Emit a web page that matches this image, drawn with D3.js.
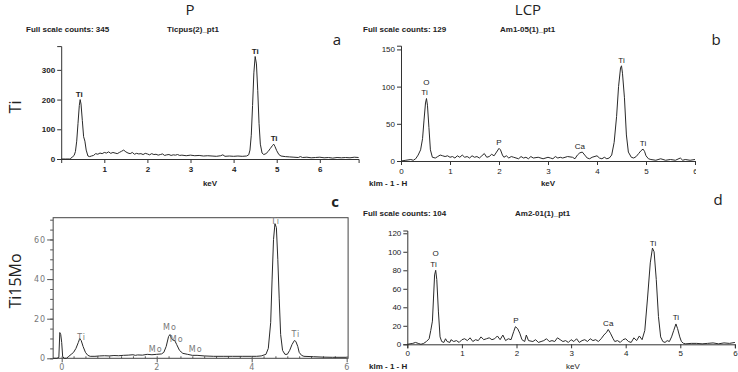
<!DOCTYPE html>
<html><head><meta charset="utf-8">
<script src="https://cdn.jsdelivr.net/npm/d3@7"></script>
<style>
body{margin:0;background:#fff;}
svg{display:block;}
.hdr{font-family:"Liberation Sans Narrow","Liberation Sans",Arial,sans-serif;font-weight:bold;font-size:8px;fill:#222;}
.tk{font-family:"Liberation Sans Narrow","Liberation Sans",Arial,sans-serif;font-weight:bold;font-size:8px;fill:#222;}
.tkb{font-family:"Liberation Sans",Arial,sans-serif;font-size:8px;fill:#222;}
.tkc{font-family:"DejaVu Sans",sans-serif;font-size:8px;fill:#777;letter-spacing:1px;}
.big{font-family:"Open Sans","Noto Sans",sans-serif;font-size:15px;fill:#222;}
</style></head>
<body><svg id="c" width="738" height="372"></svg>
<script>
// ---------- data ----------
// Panel a : Ti, P treatment (Full scale counts 345)
const keV_a = [0,0.1,0.2,0.22,0.27,0.3,0.33,0.36,0.39,0.42,0.44,0.46,0.49,0.52,0.55,0.58,0.62,0.66,0.7,0.75,0.8,0.85,0.9,0.95,1.0,1.05,1.1,1.15,1.2,1.25,1.3,1.35,1.4,1.45,1.5,1.55,1.6,1.65,1.7,1.75,1.8,1.85,1.9,1.95,2.0,2.05,2.1,2.15,2.2,2.25,2.3,2.35,2.4,2.45,2.5,2.55,2.6,2.65,2.7,2.75,2.8,2.9,3.0,3.1,3.2,3.3,3.4,3.5,3.6,3.7,3.75,3.8,3.9,4.0,4.1,4.2,4.3,4.35,4.38,4.41,4.44,4.47,4.5,4.53,4.56,4.59,4.62,4.66,4.7,4.75,4.8,4.85,4.9,4.93,4.96,5.0,5.05,5.1,5.2,5.3,5.4,5.5,5.55,5.6,5.7,5.8,5.9,6.0,6.1,6.2,6.3,6.4,6.5,6.6,6.7,6.8,6.9];
const cnt_a = [0,0,0,2,8,12,25,60,120,180,200,185,130,75,60,30,10,8,10,12,18,16,20,18,22,20,24,19,22,20,18,22,26,30,24,20,18,22,16,19,17,18,15,19,17,14,18,15,16,13,15,17,12,14,15,12,14,13,15,12,13,11,13,11,12,10,11,10,9,11,14,9,10,9,10,9,10,14,30,80,180,290,345,320,230,120,50,20,15,18,25,35,45,50,42,28,15,10,8,7,6,5,8,5,6,4,5,6,4,5,3,5,4,5,4,6,5];
const lbl_a = [["Ti",0.42,219],["Ti",4.5,364],["Ti",4.94,71]];
const yTicks_a = [0,100,200,300];
const xTicks_a = [1,2,3,4,5,6];

// Panel b : Ti, LCP treatment (Full scale counts 129)
const keV_b = [0,0.1,0.2,0.25,0.3,0.35,0.4,0.44,0.47,0.5,0.52,0.54,0.57,0.6,0.64,0.7,0.75,0.8,0.85,0.9,0.95,1.0,1.05,1.1,1.15,1.2,1.25,1.3,1.35,1.4,1.45,1.5,1.55,1.6,1.65,1.7,1.75,1.8,1.85,1.9,1.95,2.0,2.03,2.07,2.1,2.15,2.2,2.25,2.3,2.4,2.45,2.5,2.55,2.6,2.65,2.7,2.8,2.9,3.0,3.05,3.1,3.15,3.2,3.25,3.3,3.4,3.5,3.55,3.6,3.65,3.7,3.75,3.8,3.85,3.9,4.0,4.05,4.1,4.15,4.2,4.25,4.3,4.35,4.4,4.44,4.48,4.5,4.52,4.56,4.6,4.64,4.7,4.75,4.8,4.85,4.9,4.94,4.97,5.0,5.05,5.1,5.2,5.3,5.4,5.5,5.6,5.7,5.75,5.8,5.9,6.0];
const cnt_b = [0,1,2,1,3,8,15,30,55,78,84,75,45,15,5,4,6,8,7,6,7,5,6,4,7,5,8,5,6,4,7,5,6,4,7,10,5,6,9,7,12,17,15,8,5,7,4,6,5,3,6,4,5,3,6,4,5,3,5,4,3,6,4,5,4,6,5,3,8,11,12,8,4,3,5,7,4,3,5,3,4,8,25,60,100,125,128,118,85,35,12,5,4,6,10,14,16,13,7,3,2,1,3,1,2,1,4,1,2,1,2];
const lbl_b = [["O",0.52,106],["Ti",0.48,93],["P",2.0,25.5],["Ca",3.65,20],["Ti",4.5,136],["Ti",4.94,24]];
const yTicks_b = [0,50,100,150];
const xTicks_b = [0,1,2,3,4,5,6];

// Panel c : Ti15Mo, P treatment
const keV_c = [-0.18,-0.1,-0.06,-0.04,-0.02,0.0,0.02,0.05,0.1,0.15,0.2,0.25,0.3,0.35,0.38,0.41,0.45,0.5,0.55,0.6,0.7,0.8,0.9,1.0,1.1,1.2,1.3,1.4,1.5,1.55,1.6,1.7,1.8,1.9,2.0,2.1,2.15,2.2,2.25,2.28,2.31,2.35,2.38,2.42,2.48,2.55,2.65,2.75,2.85,3.0,3.2,3.4,3.6,3.8,4.0,4.1,4.2,4.3,4.35,4.4,4.43,4.46,4.49,4.52,4.55,4.58,4.61,4.65,4.7,4.75,4.8,4.85,4.9,4.93,4.97,5.0,5.05,5.1,5.3,5.5,5.7,6.0];
const cnt_c = [0,0,0.5,13,12,8,1,0,0,1,2,3,5,8,10,9,6,3,1.5,1,1,1.2,1.3,1.2,1.4,1.3,1.5,1.6,1.8,1.5,1.7,1.6,2,1.8,2,2.2,3,6,11,12,10,9,9,7,4,2.5,2,1.5,1.5,1.2,1,1,1,1,1,1,1.2,2,5,18,40,60,68,66,50,30,12,4,2,2,4,7,9,8.5,6,3,1.5,1,0.8,0.6,0.5,0.5];
const lbl_c = [["Ti",0.42,10.8],["Mo",2.28,15.8],["Mo",2.42,9.8],["Mo",1.98,4.4],["Mo",2.82,4.4],["Ti",4.5,69.3],["Ti",4.93,12.3]];
const yTicks_c = [0,20,40,60];
const xTicks_c = [0,2,4,6];

// Panel d : Ti15Mo, LCP treatment (Full scale counts 104)
const keV_d = [0,0.1,0.15,0.2,0.25,0.3,0.35,0.4,0.43,0.46,0.48,0.5,0.52,0.54,0.57,0.6,0.63,0.67,0.7,0.73,0.78,0.8,0.85,0.9,0.95,1.0,1.05,1.1,1.15,1.2,1.25,1.3,1.35,1.4,1.45,1.5,1.55,1.6,1.65,1.7,1.75,1.8,1.85,1.9,1.95,1.98,2.02,2.06,2.1,2.15,2.18,2.22,2.3,2.35,2.4,2.45,2.5,2.55,2.6,2.65,2.7,2.75,2.8,2.85,2.9,2.95,3.0,3.05,3.1,3.15,3.2,3.25,3.3,3.35,3.4,3.45,3.5,3.55,3.6,3.65,3.68,3.72,3.77,3.8,3.85,3.9,3.95,4.0,4.05,4.1,4.15,4.2,4.25,4.3,4.35,4.4,4.45,4.49,4.52,4.56,4.6,4.64,4.68,4.72,4.76,4.8,4.84,4.88,4.92,4.95,4.99,5.02,5.06,5.1,5.2,5.3,5.4,5.5,5.6,5.7,5.8,5.9,6.0];
const cnt_d = [0,1,2,1,0,1,3,6,15,25,50,75,80,70,35,8,3,2,6,3,2,5,3,4,2,5,6,4,7,3,5,4,8,5,6,7,5,6,9,5,10,4,6,5,14,19,17,12,5,3,10,4,3,5,2,3,4,6,3,4,3,7,5,3,4,2,5,3,6,2,4,5,3,6,4,5,3,6,10,13,16,12,6,3,4,2,5,6,3,2,7,4,9,5,15,50,88,104,100,70,30,8,3,2,4,3,8,15,22,17,8,3,1,0.5,1,1,0.5,1,1.5,0.5,1.5,1,2];
const lbl_d = [["O",0.52,98.7],["Ti",0.48,86.8],["P",1.99,26.3],["Ca",3.68,22.7],["Ti",4.5,109],["Ti",4.92,28.8]];
const yTicks_d = [0,20,40,60,80,100,120];
const xTicks_d = [0,1,2,3,4,5,6];

// header texts
const headers = [
  {counts:"Full scale counts: 345", name:"Ticpus(2)_pt1"},
  {counts:"Full scale counts: 129", name:"Am1-05(1)_pt1"},
  {counts:"Full scale counts: 104", name:"Am2-01(1)_pt1"}
];
const colTitles = ["P","LCP"];
const rowTitles = ["Ti","Ti15Mo"];
const panelLetters = ["a","b","c","d"];

// ---------- drawing ----------
const svg = d3.select("#c");
const defs = svg.append("defs");
defs.append("clipPath").attr("id","clipB").append("rect").attr("x",0).attr("y",0).attr("width",696).attr("height",200);
const fmt = d3.format("d");

function pairs(k,c){ return k.map((v,i)=>[v,c[i]]); }

function spectrum(g, x, y, keV, cnt, lbls, lblClass){
  const line = d3.line().x(d=>x(d[0])).y(d=>y(d[1]));
  g.append("path").datum(pairs(keV,cnt)).attr("d",line)
    .attr("fill","none").attr("stroke","#2a2a2a").attr("stroke-width",1);
  g.selectAll(null).data(lbls).join("text")
    .attr("class",lblClass).attr("x",d=>x(d[1])).attr("y",d=>y(d[2])).attr("dy","0.35em")
    .attr("text-anchor","middle").text(d=>d[0]);
}
function styleAxis(a, cls, keepDomain){
  if(keepDomain) a.select(".domain").attr("stroke","#333"); else a.select(".domain").remove();
  a.selectAll("line").attr("stroke", cls==="tkc" ? "#555" : "#333");
  a.selectAll("text").attr("class",cls).attr("font-family",null).attr("font-size",null).attr("fill",null);
}

// Panel a
{
  const g = svg.append("g");
  const x = d3.scaleLinear().domain([0,6.9]).range([61.2,358.6]);
  const y = d3.scaleLinear().domain([0,380]).range([159,46.1]);
  styleAxis(g.append("g").attr("transform",`translate(${x(0)},0)`).call(d3.axisLeft(y).tickValues(yTicks_a).tickFormat(fmt).tickSize(4).tickPadding(2)),"tk",true);
  styleAxis(g.append("g").attr("transform",`translate(0,${y(0)})`).call(d3.axisBottom(x).tickValues(xTicks_a).tickFormat(fmt).tickSize(4).tickPadding(3)),"tk",true);
  spectrum(g,x,y,keV_a,cnt_a,lbl_a,"tk");
  g.append("text").attr("class","tk").attr("x",210).attr("y",186).attr("text-anchor","middle").text("keV");
  g.append("text").attr("class","hdr").attr("x",26).attr("y",32).text(headers[0].counts);
  g.append("text").attr("class","hdr").attr("x",167).attr("y",32).text(headers[0].name);
}
// Panel b
{
  const g = svg.append("g").attr("clip-path","url(#clipB)");
  const x = d3.scaleLinear().domain([0,6]).range([401,695]);
  const y = d3.scaleLinear().domain([0,155]).range([161,45.7]);
  styleAxis(g.append("g").attr("transform",`translate(${x(0)},0)`).call(d3.axisLeft(y).tickValues(yTicks_b).tickFormat(fmt).tickSize(4).tickPadding(2)),"tkb",true);
  styleAxis(g.append("g").attr("transform",`translate(0,${y(0)})`).call(d3.axisBottom(x).tickValues(xTicks_b).tickFormat(fmt).tickSize(4).tickPadding(3)),"tkb",true);
  spectrum(g,x,y,keV_b,cnt_b,lbl_b,"tkb");
  g.append("text").attr("class","tk").attr("x",369).attr("y",186).text("klm - 1 - H");
  g.append("text").attr("class","tk").attr("x",548).attr("y",186).attr("text-anchor","middle").text("keV");
  g.append("text").attr("class","hdr").attr("x",363).attr("y",32).text(headers[1].counts);
  g.append("text").attr("class","hdr").attr("x",500).attr("y",32).text(headers[1].name);
}
// Panel c
{
  const g = svg.append("g");
  const x = d3.scaleLinear().domain([-0.18,6.03]).range([53.15,348.1]);
  const y = d3.scaleLinear().domain([0,71]).range([358.3,217.7]);
  g.append("rect").attr("x",x(-0.18)).attr("y",y(71)).attr("width",x(6.03)-x(-0.18)).attr("height",y(0)-y(71))
    .attr("fill","none").attr("stroke","#444").attr("stroke-width",1);
  styleAxis(g.append("g").attr("transform",`translate(${x(-0.18)},0)`).call(d3.axisLeft(y).tickValues(yTicks_c).tickFormat(fmt).tickSize(6).tickPadding(1)),"tkc",false);
  styleAxis(g.append("g").attr("transform",`translate(${x(-0.18)},0)`).call(d3.axisLeft(y).tickValues(d3.range(0,71,5)).tickSize(3).tickFormat("")),"tkc",false);
  styleAxis(g.append("g").attr("transform",`translate(0,${y(0)})`).call(d3.axisBottom(x).tickValues(xTicks_c).tickFormat(fmt).tickSize(4).tickPadding(2)),"tkc",false);
  styleAxis(g.append("g").attr("transform",`translate(0,${y(0)})`).call(d3.axisTop(x).tickValues(d3.range(0,6.01,0.25)).tickSize(2).tickFormat("")),"tkc",false);
  spectrum(g,x,y,keV_c,cnt_c,lbl_c,"tkc");
}
// Panel d
{
  const g = svg.append("g");
  const x = d3.scaleLinear().domain([0,6]).range([407.3,734.9]);
  const y = d3.scaleLinear().domain([0,123]).range([344.3,230.5]);
  styleAxis(g.append("g").attr("transform",`translate(${x(0)},0)`).call(d3.axisLeft(y).tickValues(yTicks_d).tickFormat(fmt).tickSize(4).tickPadding(2)),"tkb",true);
  styleAxis(g.append("g").attr("transform",`translate(0,${y(0)})`).call(d3.axisBottom(x).tickValues(xTicks_d).tickFormat(fmt).tickSize(4).tickPadding(2)),"tkb",true);
  spectrum(g,x,y,keV_d,cnt_d,lbl_d,"tkb");
  g.append("text").attr("class","tk").attr("x",369).attr("y",369).text("klm - 1 - H");
  g.append("text").attr("class","tkb").attr("x",573).attr("y",369).attr("text-anchor","middle").text("keV");
  g.append("text").attr("class","hdr").attr("x",363).attr("y",216).text(headers[2].counts);
  g.append("text").attr("class","hdr").attr("x",515).attr("y",216).text(headers[2].name);
}
// Titles
svg.append("text").attr("class","big").attr("x",190).attr("y",15).attr("text-anchor","middle").text(colTitles[0]);
svg.append("text").attr("class","big").attr("x",528).attr("y",15).attr("text-anchor","middle").text(colTitles[1]);
svg.append("text").attr("class","big").style("font-size","16px").attr("transform","translate(21,107) rotate(-90)").attr("text-anchor","middle").text(rowTitles[0]);
svg.append("text").attr("class","big").style("font-size","16px").attr("transform","translate(21,281) rotate(-90)").attr("text-anchor","middle").text(rowTitles[1]);
const letterPos = [[337,45],[716,45],[335,207],[718,205]];
svg.selectAll(".lt").data(panelLetters).join("text").attr("class","big lt")
  .attr("x",(d,i)=>letterPos[i][0]).attr("y",(d,i)=>letterPos[i][1]).attr("text-anchor","middle")
  .style("font-weight",(d,i)=>i===2?"bold":"normal").text(d=>d);
</script></body></html>
